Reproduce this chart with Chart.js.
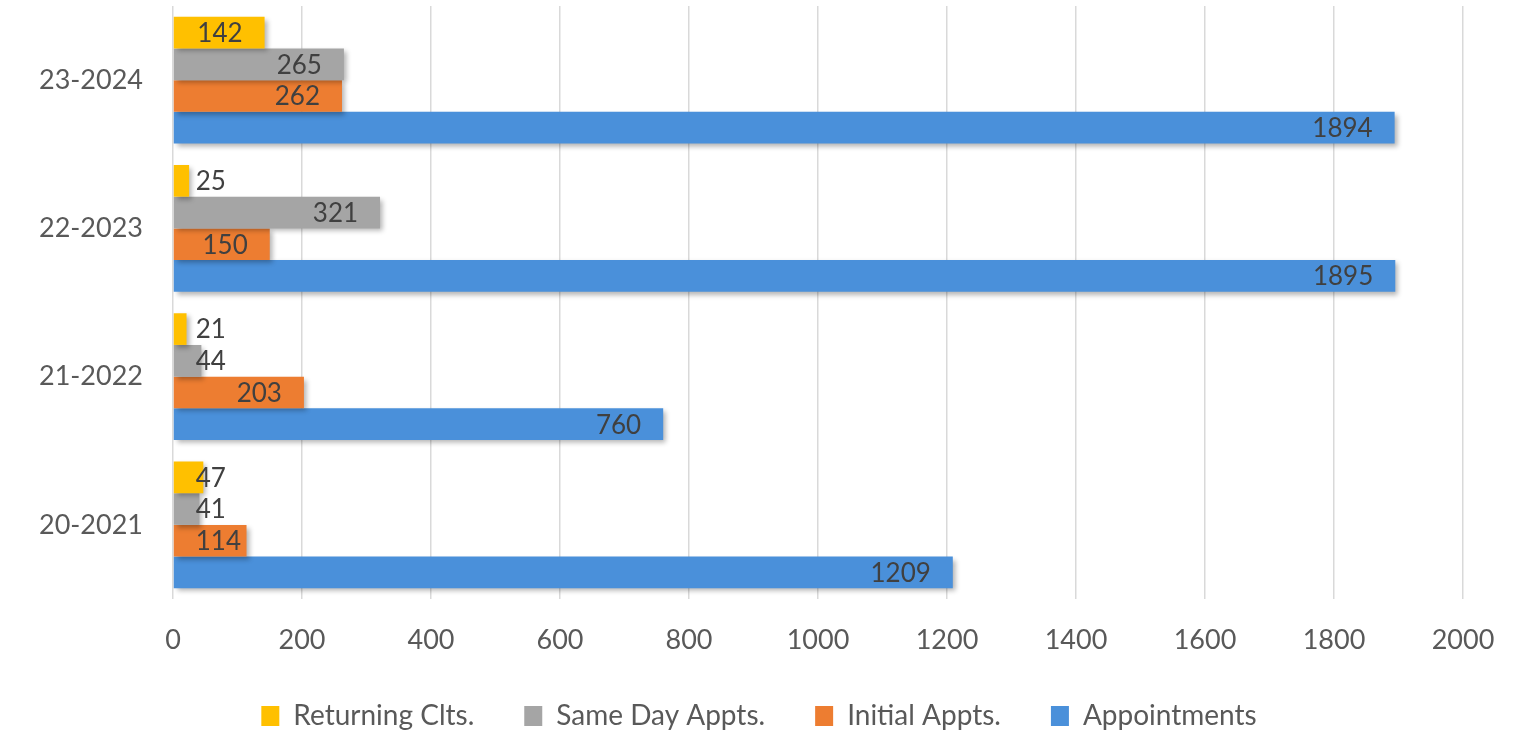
<!DOCTYPE html>
<html>
<head>
<meta charset="utf-8">
<script src="https://cdn.jsdelivr.net/npm/chart.js@4"></script>
<style>
  html, body { margin: 0; padding: 0; background: #ffffff; }
  #wrap { width: 1518px; height: 733px; }
</style>
</head>
<body>
<div id="wrap"><canvas id="myChart" width="1518" height="733"></canvas></div>
<script>
// years listed top to bottom as in the picture
var years = ['23-2024', '22-2023', '21-2022', '20-2021'];
var returningClts = [142, 25, 21, 47];
var sameDayAppts = [265, 321, 44, 41];
var initialAppts = [262, 150, 203, 114];
var appointments = [1894, 1895, 760, 1209];
var xTicks = [0, 200, 400, 600, 800, 1000, 1200, 1400, 1600, 1800, 2000];

var fontFamily = "Lato, 'Open Sans', sans-serif";

// soft drop shadow under the bars, like the office chart
var barShadow = {
  id: 'barShadow',
  beforeDatasetsDraw: function(chart) {
    var ctx = chart.ctx;
    ctx.save();
    ctx.shadowColor = 'rgba(0,0,0,0.3)';
    ctx.shadowBlur = 5;
    ctx.shadowOffsetX = 3;
    ctx.shadowOffsetY = 3;
  },
  afterDatasetsDraw: function(chart) {
    chart.ctx.restore();
  }
};

// value labels near the end of each bar
var valueLabels = {
  id: 'valueLabels',
  afterDatasetsDraw: function(chart) {
    var ctx = chart.ctx;
    ctx.save();
    ctx.font = '26px ' + fontFamily;
    ctx.fillStyle = '#404040';
    ctx.textBaseline = 'middle';
    ctx.textAlign = 'left';
    chart.data.datasets.forEach(function(ds, i) {
      var meta = chart.getDatasetMeta(i);
      meta.data.forEach(function(bar, j) {
        var txt = String(ds.data[j]);
        var w = ctx.measureText(txt).width;
        var left = bar.x - 22 - w;
        var minLeft = bar.base + 22;
        if (left < minLeft) left = Math.min(minLeft, bar.x - w + 1);
        if (left < bar.base + 8) left = minLeft;
        ctx.fillText(txt, left, bar.y + 1);
      });
    });
    ctx.restore();
  }
};

var ctx = document.getElementById('myChart').getContext('2d');
var myChart = new Chart(ctx, {
  type: 'bar',
  data: {
    labels: years,
    datasets: [
      { label: 'Returning Clts.', data: returningClts, backgroundColor: '#FFC000' },
      { label: 'Same Day Appts.', data: sameDayAppts, backgroundColor: '#A5A5A5' },
      { label: 'Initial Appts.', data: initialAppts, backgroundColor: '#ED7D31' },
      { label: 'Appointments', data: appointments, backgroundColor: '#4A90DA' }
    ]
  },
  options: {
    indexAxis: 'y',
    responsive: false,
    animation: false,
    layout: { padding: { top: 6, right: 0, bottom: -7, left: 0 } },
    datasets: {
      bar: { categoryPercentage: 0.855, barPercentage: 1.0, borderWidth: 0 }
    },
    scales: {
      x: {
        min: 0,
        max: 2000,
        afterBuildTicks: function(scale) {
          scale.ticks = xTicks.map(function(v) { return { value: v }; });
        },
        afterFit: function(scale) {
          scale.height = 53;
          scale.paddingRight = 55;
        },
        grid: { color: '#d9d9d9', lineWidth: 1.5, drawTicks: false },
        border: { display: false },
        ticks: {
          color: '#595959',
          font: { family: fontFamily, size: 27 },
          padding: 25,
          callback: function(v) { return String(v); }
        }
      },
      y: {
        grid: { display: false, drawTicks: false },
        border: { display: false },
        afterFit: function(scale) {
          scale.width = 173;
          scale.paddingTop = 0;
          scale.paddingBottom = 0;
        },
        ticks: { color: '#595959', font: { family: fontFamily, size: 27 }, padding: 30 }
      }
    },
    plugins: {
      tooltip: { enabled: false },
      legend: {
        position: 'bottom',
        labels: {
          color: '#595959',
          font: { family: fontFamily, size: 28 },
          boxWidth: 18,
          boxHeight: 20,
          padding: 50
        }
      }
    }
  },
  plugins: [barShadow, valueLabels]
});
</script>
</body>
</html>
